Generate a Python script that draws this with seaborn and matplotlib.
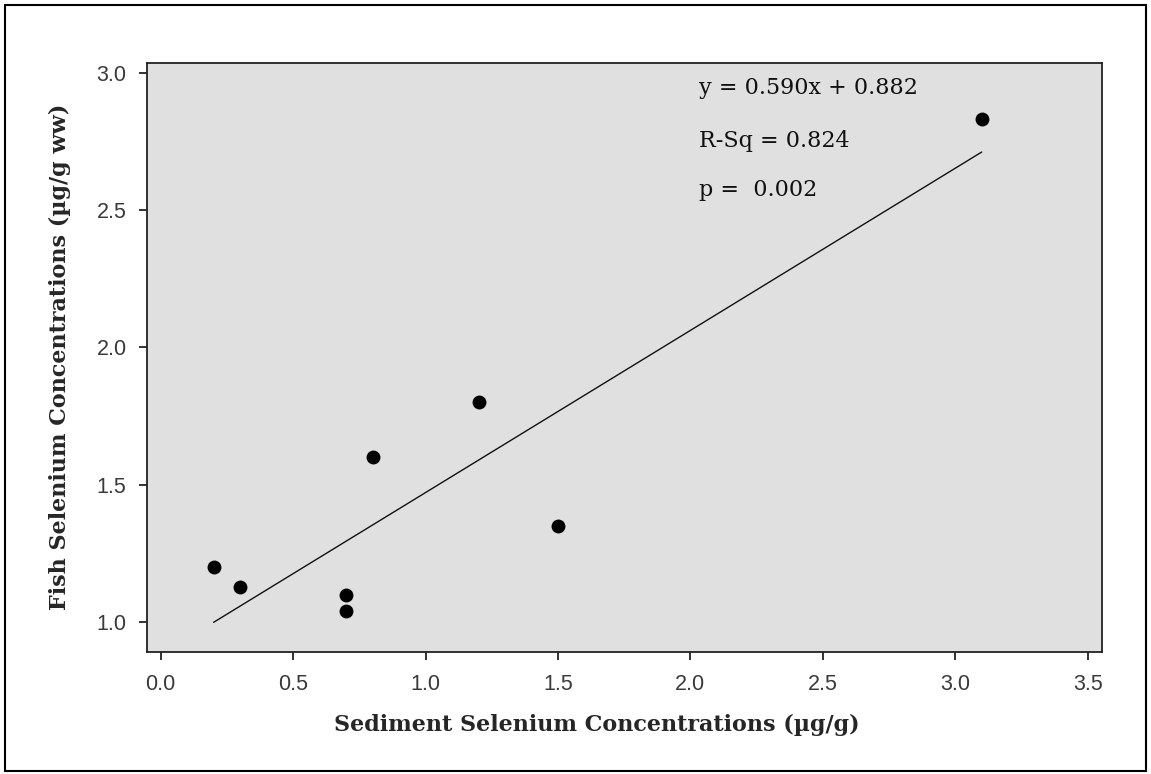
import numpy as np
import pandas as pd
import matplotlib
matplotlib.use("Agg")
import matplotlib.pyplot as plt
import seaborn as sns
from matplotlib.patches import Rectangle

# Data
sediment_se = [0.2, 0.3, 0.7, 0.7, 0.8, 1.2, 1.5, 3.1]
fish_se = [1.20, 1.13, 1.10, 1.04, 1.60, 1.80, 1.35, 2.83]
slope = 0.590
intercept = 0.882
stats_lines = ["y = 0.590x + 0.882", "R-Sq = 0.824", "p =  0.002"]
x_ticks = [0.0, 0.5, 1.0, 1.5, 2.0, 2.5, 3.0, 3.5]
y_ticks = [1.0, 1.5, 2.0, 2.5, 3.0]
x_label = "Sediment Selenium Concentrations (\u00b5g/g)"
y_label = "Fish Selenium Concentrations (\u00b5g/g ww)"

sns.set_style("ticks", {"axes.facecolor": "#e0e0e0", "axes.edgecolor": "#222222"})
plt.rcParams["font.family"] = ["Liberation Sans", "DejaVu Sans"]

df = pd.DataFrame({"sediment": sediment_se, "fish": fish_se})
xfit = np.array([min(sediment_se), max(sediment_se)])
fit_df = pd.DataFrame({"sediment": xfit, "fish": slope * xfit + intercept})

fig = plt.figure(figsize=(11.51, 7.74), dpi=100)
ax = fig.add_axes([0.1281, 0.158, 0.9574 - 0.1281, 0.919 - 0.158])

sns.lineplot(data=fit_df, x="sediment", y="fish", ax=ax, color="#111111", linewidth=1.0)
sns.scatterplot(data=df, x="sediment", y="fish", ax=ax, color="black", s=100,
                edgecolor="black", linewidth=0, zorder=3)

ax.set_xlim(-0.05, 3.554)
ax.set_ylim(0.893, 3.036)
ax.set_xticks(x_ticks)
ax.set_yticks(y_ticks)
ax.set_xticklabels([f"{v:.1f}" for v in x_ticks])
ax.set_yticklabels([f"{v:.1f}" for v in y_ticks])
ax.tick_params(axis="both", direction="out", length=6, width=1.3, colors="#222222",
               labelsize=15.5, labelcolor="#3a3a3a")
ax.tick_params(axis="x", pad=10)
ax.tick_params(axis="y", pad=9)
for sp in ax.spines.values():
    sp.set_visible(True)
    sp.set_linewidth(1.3)

ax.set_xlabel(x_label, fontfamily="DejaVu Serif", fontweight="bold", fontsize=16)
ax.xaxis.set_label_coords(0.471, -0.1245)
ax.xaxis.label.set_verticalalignment("center")
ax.set_ylabel(y_label, fontfamily="DejaVu Serif", fontweight="bold", fontsize=16, labelpad=18)

ys = [2.944, 2.751, 2.573]
for txt, yy in zip(stats_lines, ys):
    ax.text(2.032, yy, txt, fontfamily="DejaVu Serif", fontsize=16, color="#111111",
            va="center", ha="left")

fig.patches.append(Rectangle((5 / 1151, 1 - 771 / 774), (1146 - 5) / 1151, (771 - 5) / 774,
                             transform=fig.transFigure, fill=False, edgecolor="black",
                             linewidth=1.5))

fig.savefig("out.png", dpi=100)
